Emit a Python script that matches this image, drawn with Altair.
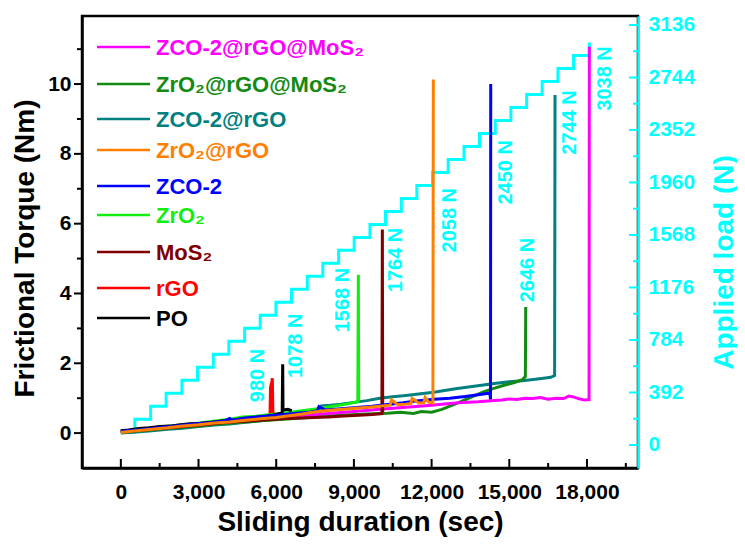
import altair as alt
import pandas as pd

# ---------------- data ----------------
series_names = ["ZCO-2@rGO@MoS₂", "ZrO₂@rGO@MoS₂", "ZCO-2@rGO", "ZrO₂@rGO",
                "ZCO-2", "ZrO₂", "MoS₂", "rGO", "PO"]
series_colors = ["#FF00FF", "#138A13", "#008080", "#FF8000",
                 "#0000FF", "#11EE11", "#800000", "#FF0000", "#000000"]

# time (s) and frictional torque (Nm) for each sample
po_t = [0, 300, 700, 1100, 1500, 1900, 2300, 2700, 3100, 3500, 3900, 4300, 4700, 5100,
        5500, 5900, 6230, 6250, 6262, 6285, 6450, 6600]
po_v = [0.07, 0.09, 0.13, 0.15, 0.19, 0.2, 0.24, 0.27, 0.28, 0.31, 0.35, 0.37, 0.41, 0.44,
        0.47, 0.52, 0.58, 1.97, 0.7, 0.66, 0.68, 0.64]

rgo_t = [0, 400, 900, 1400, 2000, 2600, 3200, 3800, 4400, 5000, 5500, 5760, 5780, 5800,
         5830, 5850, 5870, 5900]
rgo_v = [0.04, 0.07, 0.11, 0.14, 0.2, 0.24, 0.29, 0.33, 0.38, 0.43, 0.48, 0.52, 1.3, 1.38,
         1.45, 1.57, 0.62, 0.56]

zro2_t = [0, 500, 1200, 2000, 2800, 3500, 4200, 4700, 5200, 5800, 6400, 7000, 7600, 8200,
          8700, 9150, 9171, 9185]
zro2_v = [0.06, 0.09, 0.15, 0.21, 0.27, 0.33, 0.4, 0.46, 0.48, 0.53, 0.58, 0.64, 0.7, 0.77,
          0.83, 0.9, 4.54, 0.92]

mos2_t = [0, 800, 1600, 2400, 3200, 4000, 4800, 5600, 6400, 7200, 8000, 8600, 9200, 9700,
          10080, 10098, 10112]
mos2_v = [0.03, 0.08, 0.14, 0.19, 0.24, 0.3, 0.34, 0.38, 0.42, 0.44, 0.46, 0.49, 0.51, 0.53,
          0.56, 5.83, 0.6]

zro2rgo_t = [0, 400, 800, 1300, 1800, 2400, 3000, 3600, 4200, 4800, 5400, 6000, 6500, 7000,
             7400, 7800, 8200, 8700, 9200, 9700, 10100, 10400, 10450, 10700, 11000, 11200,
             11250, 11500, 11700, 11750, 11900, 12050, 12067]
zro2rgo_v = [0.02, 0.05, 0.08, 0.12, 0.15, 0.2, 0.24, 0.29, 0.32, 0.37, 0.41, 0.45, 0.5, 0.55,
             0.6, 0.63, 0.66, 0.69, 0.72, 0.75, 0.78, 0.8, 0.95, 0.81, 0.83, 0.85,
             1.0, 0.86, 0.87, 1.02, 0.88, 0.86, 10.13]

zco2_t = [0, 500, 1000, 1600, 2200, 2800, 3400, 4000, 4200, 4300, 4800, 5300, 5800, 6300,
          6800, 7300, 7600, 7650, 7900, 8500, 9100, 9700, 10300, 10900, 11500, 12100, 12700,
          13300, 13800, 14200, 14250, 14275, 14283]
zco2_v = [0.05, 0.08, 0.12, 0.17, 0.21, 0.26, 0.3, 0.35, 0.42, 0.37, 0.43, 0.47, 0.5, 0.53,
          0.57, 0.6, 0.64, 0.76, 0.66, 0.7, 0.73, 0.77, 0.82, 0.87, 0.93, 0.97, 1.0,
          1.05, 1.1, 1.14, 1.16, 0.97, 10.0]

zro2rgomos2_t = [0, 700, 1500, 2300, 3100, 3900, 4700, 5500, 6300, 7100, 7900, 8700, 9500,
                 10300, 10800, 11300, 11600, 12000, 12400, 12800, 13200, 13600, 14000, 14400,
                 14800, 15200, 15500, 15620, 15635]
zro2rgomos2_v = [0.02, 0.06, 0.11, 0.16, 0.21, 0.27, 0.31, 0.36, 0.4, 0.44, 0.49, 0.52, 0.55,
                 0.57, 0.6, 0.56, 0.62, 0.6, 0.68, 0.8, 0.92, 1.05, 1.18, 1.28,
                 1.37, 1.45, 1.53, 1.62, 3.61]

zco2rgo_t = [0, 600, 1200, 1800, 2400, 3000, 3600, 4200, 4800, 5400, 6000, 6600, 7200, 7700,
             7750, 8100, 8500, 9000, 9500, 10000, 10500, 11000, 11500, 12000, 12500, 13000,
             13500, 14000, 14500, 15000, 15500, 16000, 16400, 16600, 16750, 16766]
zco2rgo_v = [0.0, 0.03, 0.07, 0.11, 0.14, 0.19, 0.23, 0.26, 0.31, 0.35, 0.4, 0.45, 0.5, 0.55,
             0.78, 0.8, 0.83, 0.88, 0.93, 1.0, 1.04, 1.08, 1.12, 1.16, 1.22, 1.28,
             1.33, 1.38, 1.43, 1.47, 1.5, 1.54, 1.58, 1.6, 1.65, 9.69]

zco2rgomos2_t = [0, 1000, 2000, 3000, 4000, 5000, 6000, 7000, 8000, 9000, 10000, 11000, 12000,
                 12600, 13200, 13800, 14300, 14700, 15000, 15300, 15600, 15900, 16200, 16500,
                 16800, 17100, 17300, 17500, 17700, 17900, 18080, 18091]
zco2rgomos2_v = [0.04, 0.1, 0.17, 0.24, 0.31, 0.37, 0.44, 0.5, 0.56, 0.62, 0.68, 0.74, 0.8,
                 0.84, 0.88, 0.9, 0.93, 0.95, 0.98, 0.96, 1.0, 0.99, 1.02, 0.97,
                 1.0, 0.99, 1.06, 1.03, 0.98, 0.95, 0.96, 11.07]

# applied load staircase: time at which each load level starts (s), load (N)
load_t = [0, 540, 1150, 1750, 2360, 2960, 3570, 4170, 4780, 5380, 5990, 6590, 7200, 7800,
          8410, 9010, 9620, 10220, 10830, 11430, 12040, 12640, 13250, 13850, 14460, 15060,
          15670, 16270, 16880, 17480, 18091]
load_v = [95, 192, 289, 386, 483, 580, 677, 774, 871, 968, 1065, 1162, 1259, 1356, 1453,
          1550, 1647, 1744, 1841, 1938, 2035, 2132, 2229, 2326, 2423, 2520, 2617, 2714,
          2811, 2908, 3005]

# load annotations
ann_text = ["980 N", "1078 N", "1568 N", "1764 N", "2058 N", "2450 N", "2646 N", "2744 N", "3038 N"]
ann_t = [5298, 6765, 8592, 10630, 12712, 14855, 15704, 17326, 18678]
ann_v = [1.65, 2.5, 3.81, 4.96, 6.1, 7.47, 4.67, 8.9, 10.16]

x_ticks = [0, 3000, 6000, 9000, 12000, 15000, 18000]
x_minor = [1500, 4500, 7500, 10500, 13500, 16500, 19500]
y_ticks = [0, 2, 4, 6, 8, 10]
y_minor = [1, 3, 5, 7, 9, 11]
r_ticks = [0, 392, 784, 1176, 1568, 1960, 2352, 2744, 3136]
r_minor = [196, 588, 980, 1372, 1764, 2156, 2548, 2940]

series_t = [zco2rgomos2_t, zro2rgomos2_t, zco2rgo_t, zro2rgo_t, zco2_t, zro2_t, mos2_t, rgo_t, po_t]
series_v = [zco2rgomos2_v, zro2rgomos2_v, zco2rgo_v, zro2rgo_v, zco2_v, zro2_v, mos2_v, rgo_v, po_v]

# ---------------- layout ----------------
W, H = 556, 452
FONT = "Liberation Sans"
CYAN = "#00FFFF"

xs = alt.Scale(domain=[-1500, 19970], nice=False, zero=False)
ys = alt.Scale(domain=[-1, 11.95], nice=False, zero=False)
rs = alt.Scale(domain=[-172, 3203], nice=False, zero=False)

x_axis = alt.Axis(title="Sliding duration (sec)", values=x_ticks, format=",d", ticks=False,
                  tickSize=0, labelPadding=13, labelFontSize=21, labelFontWeight="bold",
                  labelFont=FONT, labelColor="black", labelOverlap=False, labelFlush=False,
                  titleFontSize=28, titleFont=FONT, titleFontWeight="bold", titleColor="black",
                  titleY=54, titleBaseline="middle", domainColor="black", domainWidth=2.5,
                  grid=False)
y_axis = alt.Axis(title="Frictional Torque (Nm)", values=y_ticks, ticks=False, tickSize=0,
                  labelPadding=11, labelFontSize=21, labelFontWeight="bold", labelFont=FONT,
                  labelColor="black", labelOverlap=False, labelFlush=False,
                  titleFontSize=28, titleFont=FONT, titleFontWeight="bold", titleColor="black",
                  titleAngle=270, titleX=-57, titleY=232, titleBaseline="middle",
                  titleAlign="center", domainColor="black", domainWidth=2.5, grid=False,
                  orient="left")
r_axis = alt.Axis(title="Applied load (N)", values=r_ticks, format="d", ticks=False, tickSize=0,
                  labelPadding=10, labelFontSize=21, labelFontWeight="bold", labelFont=FONT,
                  labelColor=CYAN, labelOverlap=False, labelFlush=False,
                  titleFontSize=28, titleFont=FONT, titleFontWeight="bold", titleColor=CYAN,
                  titleAngle=270, titleX=86, titleY=246, titleBaseline="middle",
                  titleAlign="center", domainColor=CYAN, domainWidth=2.5, grid=False,
                  orient="right")


def X():
    return alt.X("t:Q", scale=xs, axis=x_axis)


def Y():
    return alt.Y("v:Q", scale=ys, axis=y_axis)


def R():
    return alt.Y("load:Q", scale=rs, axis=r_axis)


one = alt.Data(values=[{}])

left_layers = []
# axis ticks (left outward, bottom inward)
left_layers.append(alt.Chart(pd.DataFrame({"v": y_ticks})).mark_rule(color="black", strokeWidth=2)
                   .encode(y=Y(), x=alt.value(-8), x2=alt.value(0)))
left_layers.append(alt.Chart(pd.DataFrame({"v": y_minor})).mark_rule(color="black", strokeWidth=2)
                   .encode(y=Y(), x=alt.value(-5), x2=alt.value(0)))
left_layers.append(alt.Chart(pd.DataFrame({"t": x_ticks})).mark_rule(color="black", strokeWidth=2)
                   .encode(x=X(), y=alt.value(H - 9), y2=alt.value(H)))
left_layers.append(alt.Chart(pd.DataFrame({"t": x_minor})).mark_rule(color="black", strokeWidth=2)
                   .encode(x=X(), y=alt.value(H - 5), y2=alt.value(H)))

draw_order = [2, 1, 0, 6, 7, 5, 8, 4, 3]
for k in draw_order:
    d = pd.DataFrame({"t": series_t[k], "v": series_v[k], "i": range(len(series_t[k]))})
    left_layers.append(alt.Chart(d).mark_line(color=series_colors[k], strokeWidth=3)
                       .encode(x=X(), y=Y(), order="i:Q"))

ann = pd.DataFrame({"t": ann_t, "v": ann_v, "label": ann_text})
left_layers.append(alt.Chart(ann).mark_text(angle=270, color=CYAN, font=FONT, fontSize=20,
                                            fontWeight="bold", align="center", baseline="middle")
                   .encode(x=X(), y=Y(), text="label:N"))

legend_rows = [31, 68, 103, 134, 170, 199, 236, 272, 302]
for k, name in enumerate(series_names):
    left_layers.append(alt.Chart(one).mark_rule(color=series_colors[k], strokeWidth=2.6)
                       .encode(x=alt.value(15), x2=alt.value(68), y=alt.value(legend_rows[k])))
    left_layers.append(alt.Chart(one).mark_text(text=name, color=series_colors[k], font=FONT,
                                                fontSize=22, fontWeight="bold", align="left",
                                                baseline="middle")
                       .encode(x=alt.value(74), y=alt.value(legend_rows[k] + 1)))

stair = pd.DataFrame({"t": load_t, "load": load_v})
right_layers = [
    alt.Chart(stair).mark_line(color=CYAN, strokeWidth=3, interpolate="step-after")
    .encode(x=X(), y=R()),
    alt.Chart(pd.DataFrame({"load": r_ticks})).mark_rule(color=CYAN, strokeWidth=2)
    .encode(y=R(), x=alt.value(W - 9), x2=alt.value(W)),
    alt.Chart(pd.DataFrame({"load": r_minor})).mark_rule(color=CYAN, strokeWidth=2)
    .encode(y=R(), x=alt.value(W - 5), x2=alt.value(W)),
]

chart = (
    alt.layer(alt.layer(*right_layers), alt.layer(*left_layers))
    .resolve_scale(y="independent")
    .properties(width=W, height=H, autosize=alt.AutoSizeParams(type="none"),
                padding={"left": 74, "top": 8, "right": 99, "bottom": 70})
    .configure_view(stroke="black", strokeWidth=2.5)
    .configure_axis(grid=False)
)

chart.save("out.html", embed_options={"renderer": "svg", "actions": False})
